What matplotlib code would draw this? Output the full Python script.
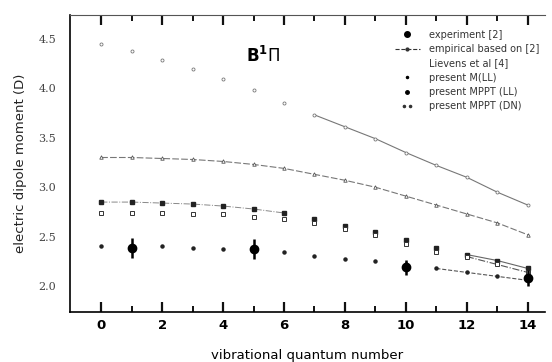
import numpy as np
import matplotlib
matplotlib.use("Agg")
import matplotlib.pyplot as plt
from matplotlib.lines import Line2D

# vibrational quantum numbers
v = np.arange(0, 15)

# experiment [2] with error bars
v_exp = [1, 5, 10, 14]
mu_exp = [2.39, 2.38, 2.19, 2.08]
err_exp = [0.1, 0.1, 0.08, 0.08]

# empirical based on [2]
mu_emp = [2.41, 2.41, 2.41, 2.39, 2.38, 2.37, 2.35, 2.31, 2.28, 2.26, 2.23, 2.18, 2.14, 2.10, 2.06]

# Lievens et al [4]
mu_lie = [4.45, 4.37, 4.28, 4.19, 4.09, 3.98, 3.85, 3.73, 3.61, 3.49, 3.35, 3.22, 3.10, 2.95, 2.82]

# present M(LL)
mu_mll = [3.30, 3.30, 3.29, 3.28, 3.26, 3.23, 3.19, 3.13, 3.07, 3.00, 2.91, 2.82, 2.73, 2.64, 2.52]

# present MPPT (LL)
mu_pll = [2.85, 2.85, 2.84, 2.83, 2.81, 2.78, 2.74, 2.68, 2.61, 2.55, 2.47, 2.39, 2.32, 2.26, 2.18]

# present MPPT (DN)
mu_pdn = [2.74, 2.74, 2.74, 2.73, 2.73, 2.70, 2.68, 2.64, 2.58, 2.52, 2.43, 2.35, 2.30, 2.22, 2.14]

labels = ['experiment [2]', 'empirical based on [2]', 'Lievens et al [4]',
          'present M(LL)', 'present MPPT (LL)', 'present MPPT (DN)']

fig = plt.figure(figsize=(5.52, 3.62), dpi=100)
ax = fig.add_axes([0.127, 0.138, 0.86, 0.821])

# empirical: dots, dashed line only visible at the end
ax.plot(v, mu_emp, 'o', ms=2.2, color='#222222', zorder=3)
ax.plot(v[11:], mu_emp[11:], '--', lw=0.8, color='#555555')

# Lievens: small open markers, line from v=7
ax.plot(v, mu_lie, 'o', ms=2.2, mfc='white', mec='#777777', mew=0.6, zorder=3)
ax.plot(v[7:], mu_lie[7:], '-', lw=0.8, color='#777777')

# M(LL): triangles with dashed line
ax.plot(v, mu_mll, '^', ms=2.5, mfc='white', mec='#555555', mew=0.6, zorder=3)
ax.plot(v, mu_mll, '--', lw=0.8, color='#777777', dashes=(6, 2))

# MPPT (LL): filled squares
ax.plot(v, mu_pll, 's', ms=2.8, color='#222222', zorder=3)
ax.plot(v[:7], mu_pll[:7], '-.', lw=0.7, color='#888888')
ax.plot(v[12:], mu_pll[12:], '-', lw=0.8, color='#666666')

# MPPT (DN): open squares
ax.plot(v, mu_pdn, 's', ms=2.6, mfc='white', mec='#333333', mew=0.7, zorder=3)
ax.plot(v[12:], mu_pdn[12:], '-.', lw=0.8, color='#555555')

# experiment
ax.errorbar(v_exp, mu_exp, yerr=err_exp, fmt='o', ms=6, color='black',
            elinewidth=1.8, capsize=0, zorder=5)

ax.text(5.3, 4.33, r'B$^{\mathbf{1}}\Pi$', fontsize=12, fontweight='bold',
        ha='center', va='center')

ax.set_xlim(-1.02, 14.56)
ax.set_ylim(1.74, 4.74)
ax.set_xticks(np.arange(0, 15, 2))
ax.set_xticks(np.arange(1, 15, 2), minor=True)
ax.set_yticks([2.0, 2.5, 3.0, 3.5, 4.0, 4.5])
ax.set_yticklabels(['2.0', '2.5', '3.0', '3.5', '4.0', '4.5'], family='DejaVu Serif',
                   fontsize=8, color='#444444')
ax.xaxis.set_tick_params(which='major', direction='in', top=True, bottom=True,
                         length=7, width=1.6, color='#111111', labelsize=9.5, pad=5)
ax.xaxis.set_tick_params(which='minor', direction='in', top=True, bottom=True,
                         length=4, width=1.4, color='#111111')
ax.yaxis.set_tick_params(length=0, pad=10)
ax.set_xticklabels([str(t) for t in range(0, 15, 2)], fontweight='bold')
ax.spines['right'].set_visible(False)
ax.spines['top'].set_color('#555555')
ax.spines['left'].set_linewidth(1.2)
ax.spines['bottom'].set_linewidth(1.2)

ax.set_xlabel('vibrational quantum number', fontsize=9.5, labelpad=12)
ax.set_ylabel('electric dipole moment (D)', fontsize=9.5, labelpad=8, color='#222222')

handles = [
    Line2D([], [], ls='none', marker='o', ms=4, color='black'),
    Line2D([], [], ls='--', marker='o', ms=2, lw=0.8, color='#333333'),
    Line2D([], [], ls='none', color='white'),
    Line2D([], [], ls='none', marker='.', ms=3, color='black'),
    Line2D([], [], ls='none', marker='o', ms=2.5, color='black'),
    Line2D([], [], ls='none', marker=r'$\bullet\bullet$', ms=6, color='#333333'),
]
leg = ax.legend(handles, labels, loc='upper right', bbox_to_anchor=(1.0, 0.97),
                fontsize=7, frameon=False, handlelength=2.6, labelspacing=0.45,
                handletextpad=0.9, borderaxespad=0.2)
for t in leg.get_texts():
    t.set_color('#333333')

fig.savefig('out.png', dpi=100)
